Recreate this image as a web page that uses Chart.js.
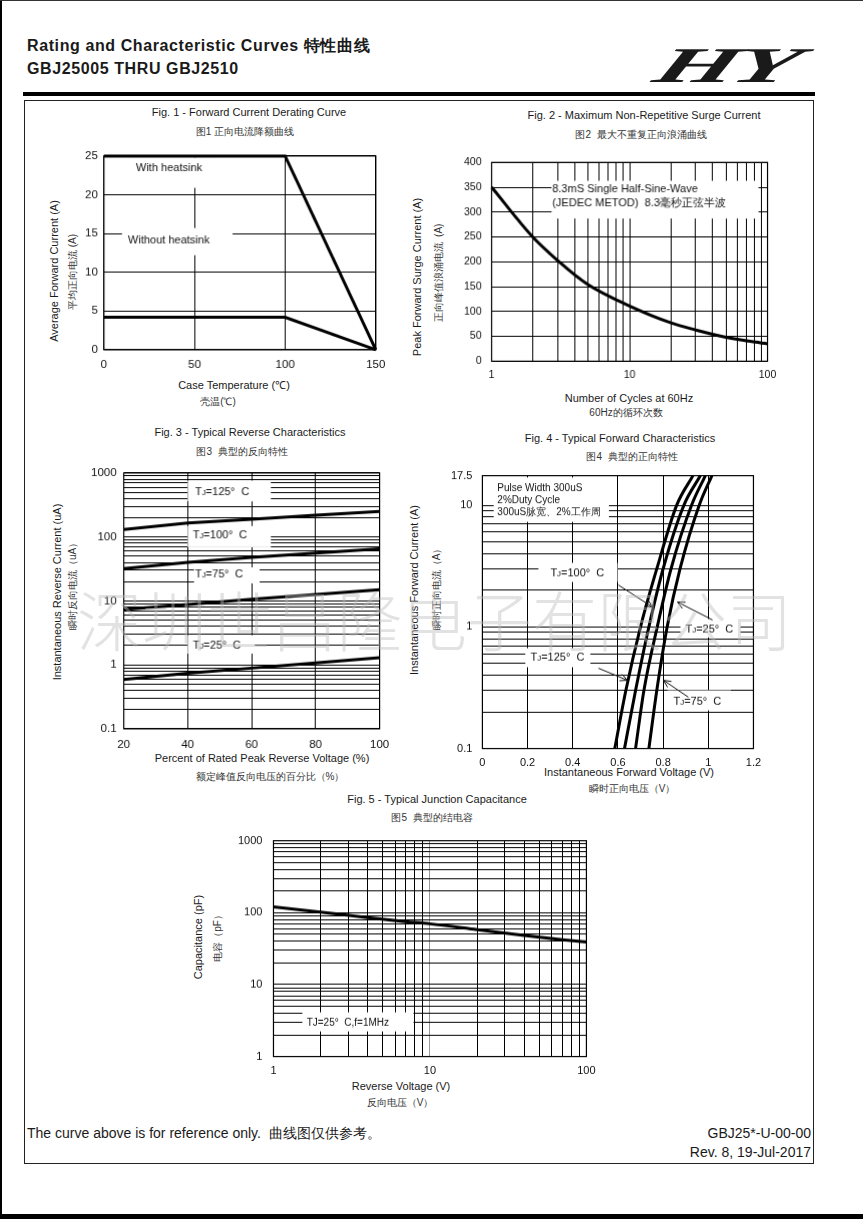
<!DOCTYPE html>
<html>
<head>
<meta charset="utf-8">
<script src="https://cdn.jsdelivr.net/npm/chart.js@4.4.1/dist/chart.umd.min.js"></script>
<style>
    html, body { margin: 0; padding: 0; background: #fff; }
    #page { position: relative; width: 863px; height: 1219px; overflow: hidden;
            font-family: "Liberation Sans", Arial, sans-serif; color: #1a1a1a; }
    .t { position: absolute; white-space: pre; line-height: 1; }
    .cn { color: #333; }
    canvas { position: absolute; }
    .rule { position: absolute; background: #000; }
    #logo { position: absolute; left: 669px; top: 40px; font-family: "Liberation Serif", serif;
            font-weight: bold; font-style: italic; font-size: 50px; line-height: 1;
            transform-origin: 0 0; transform: scaleX(2.1) skewX(-12deg); letter-spacing: -2px; }
    #wm { position: absolute; left: 77px; top: 586px; font-family: "Noto Sans CJK SC", sans-serif;
          font-size: 65px; font-weight: 300; color: rgba(185, 185, 185, 0.42); line-height: 1;
          white-space: nowrap; z-index: 5; pointer-events: none; }
</style>
</head>
<body>
<div id="page">
    <div class="rule" style="left:0;top:0;width:2px;height:1219px"></div>
    <div class="rule" style="left:0;top:0;width:863px;height:1px;background:#333"></div>
    <div class="rule" style="left:0;top:1214px;width:863px;height:5px"></div>
    <div class="rule" style="left:23px;top:92px;width:792px;height:4px"></div>
    <div style="position:absolute;left:24px;top:100px;width:790px;height:1064px;border:1px solid #222;box-sizing:border-box"></div>
    <div id="logo">HY</div>
    <div id="wm">深圳世昌隆电子有限公司</div>
</div>
<script>
// ---- Fig. 1 forward current derating
const fig1Temp = [0, 100, 150];
const fig1WithSink = [25, 25, 0];
const fig1NoSink = [4.2, 4.2, 0];

// ---- Fig. 2 surge current
const fig2Cycles = [1, 2, 3, 5, 10, 20, 30, 50, 100];
const fig2Surge = [350, 249, 203, 154, 111, 77, 63, 48, 35];

// ---- Fig. 3 reverse characteristics
const fig3Percent = [20, 40, 60, 80, 100];
const fig3Tj125 = [131, 165, 190, 218, 251];
const fig3Tj100 = [32, 40, 48, 56, 65];
const fig3Tj75 = [7.3, 8.8, 10.6, 12.6, 15];
const fig3Tj25 = [0.59, 0.74, 0.89, 1.07, 1.29];

// ---- Fig. 4 forward characteristics (current, then voltage per curve)
const fig4Current = [0.1, 0.3, 1, 3, 10, 17.5];
const fig4Tj125 = [0.586, 0.635, 0.700, 0.772, 0.860, 0.932];
const fig4Tj100 = [0.629, 0.678, 0.737, 0.800, 0.892, 0.965];
const fig4Tj75 = [0.678, 0.715, 0.774, 0.835, 0.926, 0.987];
const fig4Tj25 = [0.737, 0.772, 0.818, 0.875, 0.960, 1.016];

// ---- Fig. 5 junction capacitance
const fig5Voltage = [1, 2, 4, 7, 10, 20, 40, 70, 100];
const fig5Cap = [120, 102, 85, 75, 70, 58, 48, 42, 39];

// tick labels
const fig2XLabels = [1, 10, 100];
const fig3YLabels = [0.1, 1, 10, 100, 1000];
const fig4YLabels = [0.1, 1, 10, 17.5];
const fig5XLabels = [1, 10, 100];
const fig5YLabels = [1, 10, 100, 1000];

const FONT = '"Liberation Sans", Arial, sans-serif';
const page = document.getElementById('page');

function txt(s, x, y, o = {}) {
    const d = document.createElement('div');
    d.className = 't' + (o.cn ? ' cn' : '');
    d.textContent = s;
    d.style.fontSize = (o.size || 11) + 'px';
    if (o.bold) d.style.fontWeight = 'bold';
    if (o.ls) d.style.letterSpacing = o.ls + 'px';
    d.style.left = x + 'px';
    d.style.top = y + 'px';
    const ax = o.align === 'left' ? '0' : o.align === 'right' ? '-100%' : '-50%';
    d.style.transform = `translate(${ax},-50%)` + (o.rot ? ' rotate(-90deg)' : '');
    page.appendChild(d);
}

// 1..9 x 10^n grid values between lo and hi
function decadeGrid(lo, hi) {
    const out = [];
    for (let e = Math.floor(Math.log10(lo)); e <= Math.ceil(Math.log10(hi)); e++) {
        for (let k = 1; k <= 9; k++) {
            const v = Number((k * Math.pow(10, e)).toPrecision(3));
            if (v >= lo && v <= hi) out.push(v);
        }
    }
    return out;
}

/**
 * Label boxes, texts and arrows inside a plot, placed in data units
 */
function notes(cfg) {
    return {
        id: 'notes',
        beforeDatasetsDraw(chart) {
            const { ctx, chartArea: a, scales: { x, y } } = chart;
            ctx.save();
            ctx.fillStyle = '#fff';
            (cfg.boxes || []).forEach(b => {
                const x0 = x.getPixelForValue(b[0]), y0 = y.getPixelForValue(b[1]);
                const x1 = x.getPixelForValue(b[2]), y1 = y.getPixelForValue(b[3]);
                ctx.fillRect(Math.min(x0, x1), Math.min(y0, y1), Math.abs(x1 - x0), Math.abs(y1 - y0));
            });
            ctx.strokeStyle = '#000';
            ctx.lineWidth = 1.2;
            ctx.strokeRect(a.left, a.top, a.width, a.height);
            ctx.restore();
        },
        afterDatasetsDraw(chart) {
            const { ctx, scales: { x, y } } = chart;
            ctx.save();
            ctx.fillStyle = '#111';
            ctx.textBaseline = 'alphabetic';
            (cfg.texts || []).forEach(t => {
                const size = t.size || 11;
                let px = x.getPixelForValue(t.x);
                const py = y.getPixelForValue(t.y) + size * 0.36;
                let s = t.t;
                if (t.tj) {
                    ctx.font = `${size}px ${FONT}`;
                    ctx.fillText('T', px, py);
                    px += ctx.measureText('T').width;
                    ctx.font = `${size * 0.72}px ${FONT}`;
                    ctx.fillText('J', px, py);
                    px += ctx.measureText('J').width;
                    s = s.slice(2);
                }
                ctx.font = `${size}px ${FONT}`;
                ctx.fillText(s, px, py);
            });
            ctx.strokeStyle = '#111';
            ctx.lineWidth = 1;
            (cfg.arrows || []).forEach(r => {
                const x0 = x.getPixelForValue(r[0]), y0 = y.getPixelForValue(r[1]);
                const x1 = x.getPixelForValue(r[2]), y1 = y.getPixelForValue(r[3]);
                const ang = Math.atan2(y1 - y0, x1 - x0);
                ctx.beginPath();
                ctx.moveTo(x0, y0);
                ctx.lineTo(x1, y1);
                [0.45, -0.45].forEach(d => {
                    ctx.moveTo(x1, y1);
                    ctx.lineTo(x1 - 8 * Math.cos(ang + d), y1 - 8 * Math.sin(ang + d));
                });
                ctx.stroke();
            });
            ctx.restore();
        }
    };
}

function scale(o) {
    const s = {
        type: o.type || 'linear',
        min: o.min,
        max: o.max,
        grid: { color: o.gridColor || '#000', lineWidth: 1, drawTicks: false },
        border: { display: false },
        ticks: {
            font: { family: FONT, size: o.size || 11 },
            color: '#111',
            padding: o.pad,
            autoSkip: false,
            maxRotation: 0,
            callback: o.labels ? (v => o.labels.includes(v) ? String(v) : '') : (o.fmt || (v => String(v)))
        }
    };
    if (o.step) s.ticks.stepSize = o.step;
    if (o.grid) s.afterBuildTicks = a => { a.ticks = o.grid.map(v => ({ value: v })); };
    return s;
}

function line(xs, ys, smooth) {
    return {
        data: xs.map((v, i) => ({ x: v, y: ys[i] })),
        borderColor: '#000',
        borderWidth: 3,
        pointRadius: 0,
        tension: 0,
        cubicInterpolationMode: smooth ? 'monotone' : 'default',
        clip: false
    };
}

// area = [left, top, right, bottom] of the plot on the page
function makeChart(area, datasets, scales, plugin) {
    const c = document.createElement('canvas');
    c.width = area[2] - area[0] + 70;
    c.height = area[3] - area[1] + 45;
    page.appendChild(c);
    const chart = new Chart(c, {
        type: 'line',
        data: { datasets },
        options: {
            responsive: false,
            maintainAspectRatio: false,
            animation: false,
            events: [],
            layout: { padding: { top: 10, right: 15, bottom: 0, left: 0 } },
            plugins: { legend: { display: false }, tooltip: { enabled: false } },
            scales
        },
        plugins: [plugin]
    });
    // fit the canvas so the plot area lands where the reference has it
    let a = chart.chartArea;
    chart.resize(chart.width + (area[2] - area[0]) - (a.right - a.left),
                 chart.height + (area[3] - area[1]) - (a.bottom - a.top));
    a = chart.chartArea;
    c.style.left = (area[0] - a.left) + 'px';
    c.style.top = (area[1] - a.top) + 'px';
    return chart;
}

// ---------- header / footer text
txt('Rating and Characteristic Curves 特性曲线', 27, 46, { size: 16, bold: true, align: 'left', ls: 0.6 });
txt('GBJ25005 THRU GBJ2510', 27, 69, { size: 16, bold: true, align: 'left', ls: 0.6 });
txt('The curve above is for reference only.  曲线图仅供参考。', 27, 1133, { size: 14, align: 'left' });
txt('GBJ25*-U-00-00', 811, 1133, { size: 14, align: 'right' });
txt('Rev. 8, 19-Jul-2017', 811, 1152, { size: 14, align: 'right' });

// ---------- Fig. 1
txt('Fig. 1 - Forward Current Derating Curve', 249, 112);
txt('图1 正向电流降额曲线', 245, 132, { size: 10, cn: true });
txt('Case Temperature (℃)', 234, 385);
txt('壳温(℃)', 218, 402, { size: 10, cn: true });
txt('Average Forward Current (A)', 54, 271, { rot: true });
txt('平均正向电流 (A)', 73, 272, { size: 10, rot: true, cn: true });
makeChart([104, 156, 375, 349],
    [line(fig1Temp, fig1WithSink), line(fig1Temp, fig1NoSink)],
    {
        x: scale({ min: 0, max: 150, step: 50, pad: 8, size: 11.5 }),
        y: scale({ min: 0, max: 25, step: 5, pad: 6, size: 11.5 })
    },
    notes({
        boxes: [[14, 24.8, 60, 20.9], [10, 15.7, 71, 12.2]],
        texts: [{ t: 'With heatsink', x: 17.7, y: 23.6, size: 11 }, { t: 'Without heatsink', x: 13.3, y: 14.25, size: 11 }]
    }));

// ---------- Fig. 2
txt('Fig. 2 - Maximum Non-Repetitive Surge Current', 644, 115);
txt('图2  最大不重复正向浪涌曲线', 641, 135, { size: 10, cn: true });
txt('Number of Cycles at 60Hz', 629, 398);
txt('60Hz的循环次数', 626, 413, { size: 10, cn: true });
txt('Peak Forward Surge Current (A)', 417, 277, { rot: true });
txt('正向峰值浪涌电流  (A)', 439, 273, { size: 10, rot: true, cn: true });
makeChart([492, 162, 767, 360],
    [line(fig2Cycles, fig2Surge, true)],
    {
        x: scale({ type: 'logarithmic', min: 1, max: 100, grid: decadeGrid(1, 100), labels: fig2XLabels, pad: 8, size: 10.5 }),
        y: scale({ min: 0, max: 400, step: 50, pad: 10, size: 10.5 })
    },
    notes({
        boxes: [[2.72, 363, 86, 287]],
        texts: [{ t: '8.3mS Single Half-Sine-Wave', x: 2.75, y: 347, size: 11 },
                { t: '(JEDEC METOD)  8.3毫秒正弦半波', x: 2.75, y: 319, size: 11 }]
    }));

// ---------- Fig. 3
txt('Fig. 3 - Typical Reverse Characteristics', 250, 432);
txt('图3  典型的反向特性', 242, 452, { size: 10, cn: true });
txt('Percent of Rated Peak Reverse Voltage (%)', 262, 758);
txt('额定峰值反向电压的百分比（%）', 270, 777, { size: 10, cn: true });
txt('Instantaneous Reverse Current (uA)', 57, 592, { rot: true });
txt('瞬时反向电流（uA）', 73, 584, { size: 10, rot: true, cn: true });
makeChart([124, 473, 379, 728],
    [line(fig3Percent, fig3Tj125), line(fig3Percent, fig3Tj100), line(fig3Percent, fig3Tj75), line(fig3Percent, fig3Tj25)],
    {
        x: scale({ min: 20, max: 100, step: 20, pad: 9, size: 11.5 }),
        y: scale({ type: 'logarithmic', min: 0.1, max: 1000, grid: decadeGrid(0.1, 1000), labels: fig3YLabels, pad: 7, size: 11.5 })
    },
    notes({
        boxes: [[40, 760, 66, 360], [40, 148, 66, 69], [42, 33.5, 62.5, 18.8], [40, 2.9, 61, 1.5]],
        texts: [{ t: 'TJ=125°  C', x: 42.3, y: 522, tj: true }, { t: 'TJ=100°  C', x: 41.6, y: 110, tj: true },
                { t: 'TJ=75°  C', x: 42.3, y: 27, tj: true }, { t: 'TJ=25°  C', x: 41.6, y: 2.08, tj: true }]
    }));

// ---------- Fig. 4
txt('Fig. 4 - Typical Forward Characteristics', 620, 438);
txt('图4  典型的正向特性', 632, 457, { size: 10, cn: true });
txt('Instantaneous Forward Voltage (V)', 629, 772);
txt('瞬时正向电压（V）', 632, 789, { size: 10, cn: true });
txt('Instantaneous Forward Current (A)', 414, 590, { rot: true });
txt('瞬时正向电流（A）', 437, 587, { size: 10, rot: true, cn: true });
makeChart([482, 476, 753, 748],
    [line(fig4Tj125, fig4Current, true), line(fig4Tj100, fig4Current, true), line(fig4Tj75, fig4Current, true), line(fig4Tj25, fig4Current, true)],
    {
        x: scale({ min: 0, max: 1.2, step: 0.2, pad: 8, size: 11, fmt: v => String(Math.round(v * 10) / 10) }),
        y: scale({ type: 'logarithmic', min: 0.1, max: 17.5, grid: decadeGrid(0.1, 10).concat([17.5]), labels: fig4YLabels, pad: 10, size: 11 })
    },
    notes({
        boxes: [[0.05, 16.9, 0.56, 7.3], [0.248, 3.36, 0.598, 2.34], [0.877, 1.16, 1.142, 0.82], [0.19, 0.668, 0.478, 0.466], [0.82, 0.301, 1.1, 0.206]],
        texts: [{ t: 'Pulse Width 300uS', x: 0.066, y: 13.9, size: 10 }, { t: '2%Duty Cycle', x: 0.066, y: 11.1, size: 10 },
                { t: '300uS脉宽、2%工作周', x: 0.066, y: 8.83, size: 10 },
                { t: 'TJ=100°  C', x: 0.301, y: 2.83, tj: true }, { t: 'TJ=25°  C', x: 0.899, y: 0.977, tj: true },
                { t: 'TJ=125°  C', x: 0.213, y: 0.564, tj: true }, { t: 'TJ=75°  C', x: 0.846, y: 0.249, tj: true }],
        arrows: [[0.602, 2.21, 0.753, 1.455], [1.019, 1.14, 0.864, 1.6], [0.514, 0.457, 0.642, 0.364], [0.912, 0.264, 0.802, 0.364]]
    }));

// ---------- Fig. 5
txt('Fig. 5 - Typical Junction Capacitance', 437, 799);
txt('图5  典型的结电容', 432, 818, { size: 10, cn: true });
txt('Reverse Voltage (V)', 401, 1086);
txt('反向电压（V）', 400, 1103, { size: 10, cn: true });
txt('Capacitance (pF)', 198, 937, { rot: true });
txt('电容（pF）', 218, 936, { size: 10, rot: true, cn: true });
makeChart([273, 841, 586, 1056],
    [line(fig5Voltage, fig5Cap, true)],
    {
        x: scale({ type: 'logarithmic', min: 1, max: 100, grid: decadeGrid(1, 100), labels: fig5XLabels, pad: 8, size: 11,
                   gridColor: c => (c.tick && c.tick.value === 10 ? '#999' : '#000') }),
        y: scale({ type: 'logarithmic', min: 1, max: 1000, grid: decadeGrid(1, 1000), labels: fig5YLabels, pad: 11, size: 11 })
    },
    notes({
        boxes: [[1.53, 4.11, 7.85, 2.23]],
        texts: [{ t: 'TJ=25°  C,f=1MHz', x: 1.63, y: 2.98, size: 10 }]
    }));
</script>
</body>
</html>
